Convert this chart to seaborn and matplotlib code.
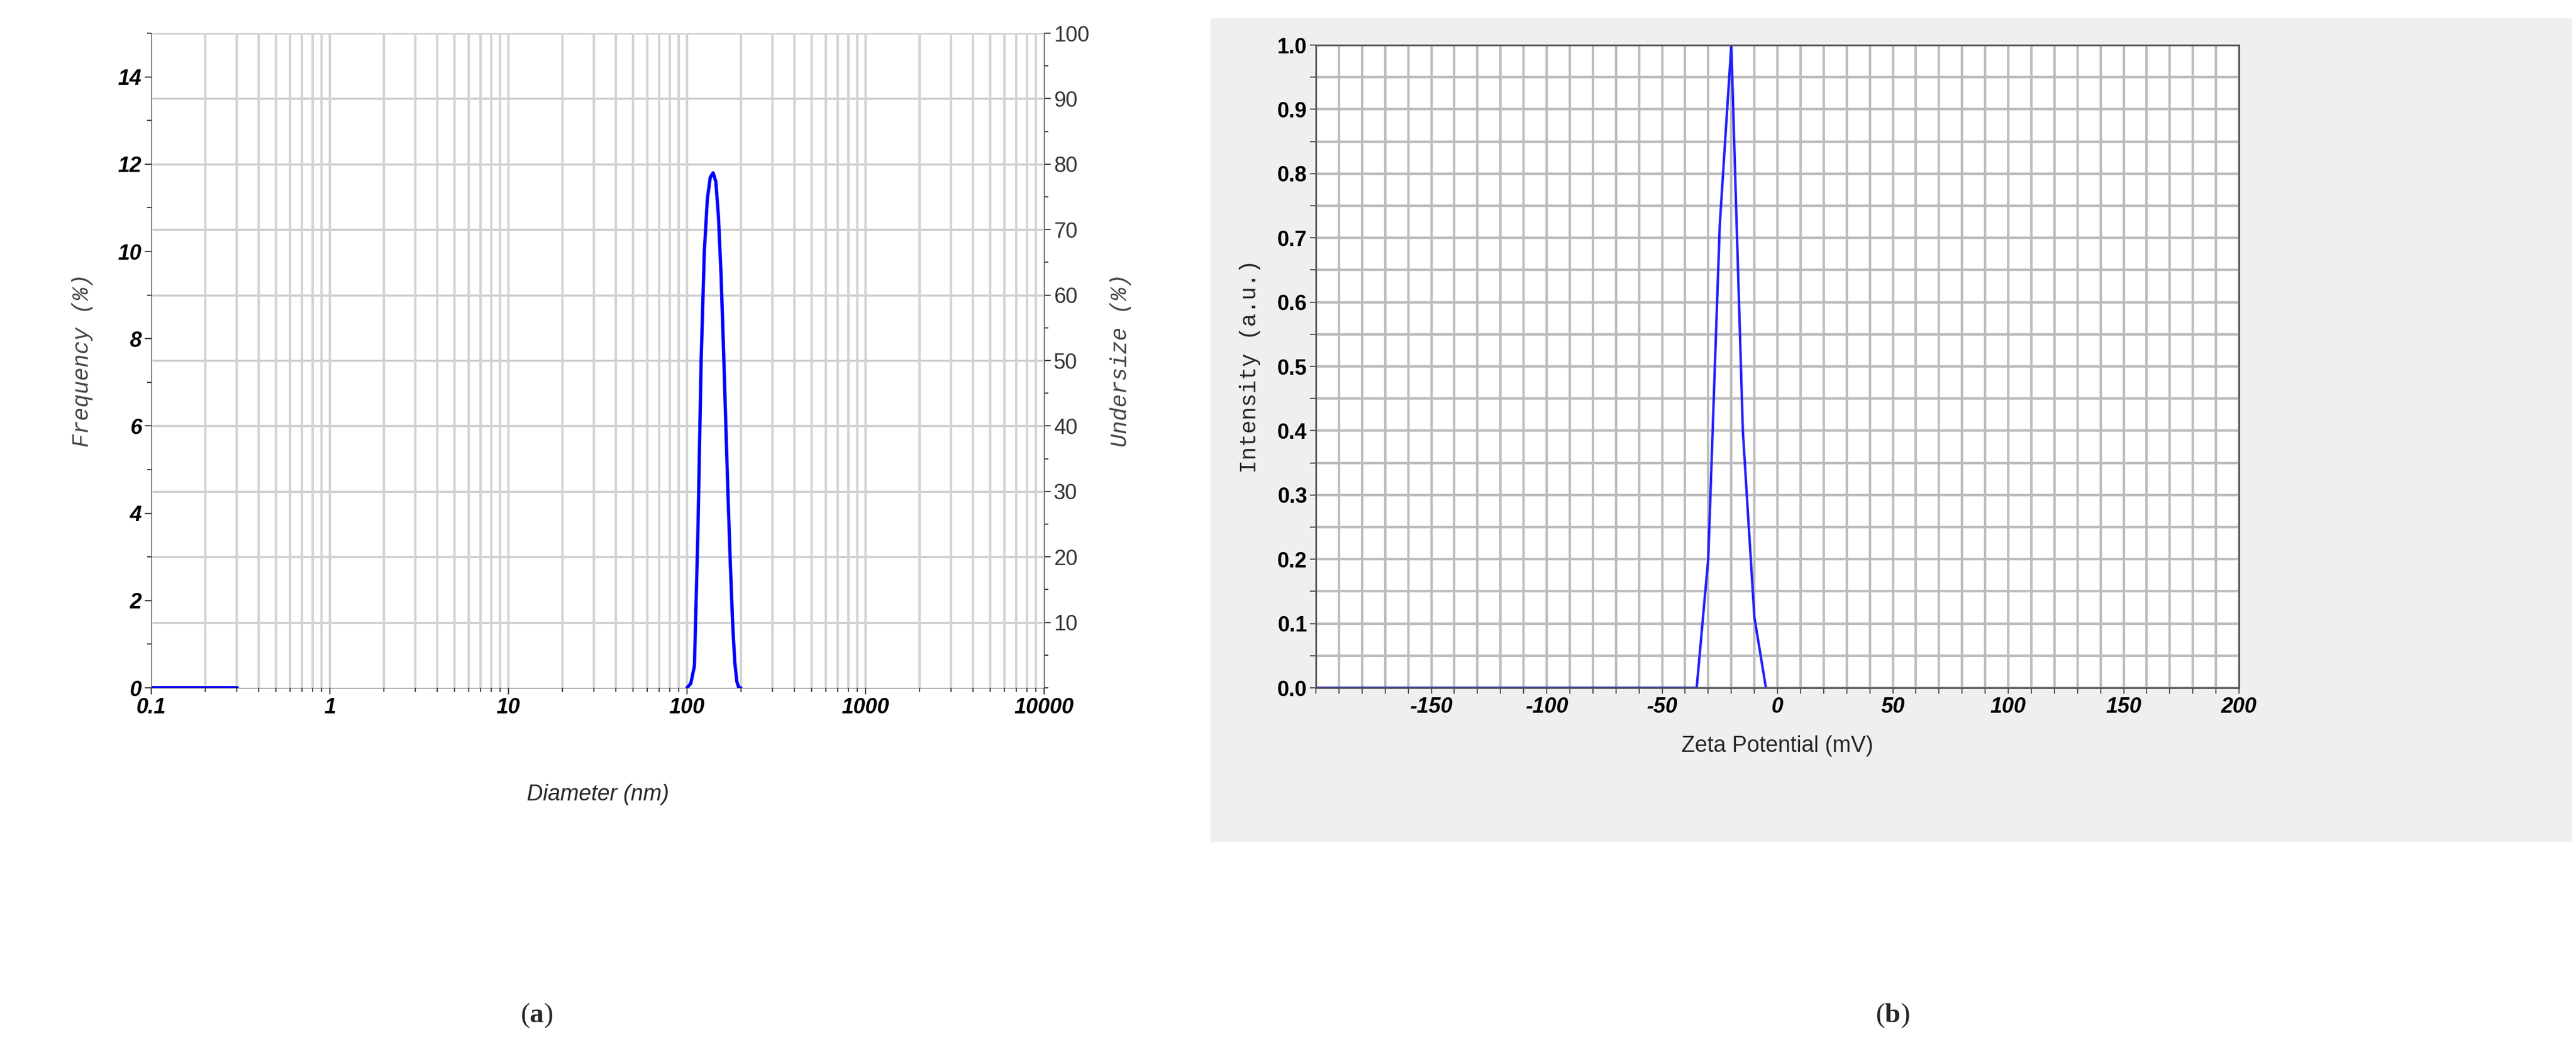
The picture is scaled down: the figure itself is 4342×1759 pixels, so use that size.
import matplotlib.pyplot as plt
import seaborn as sns
import pandas as pd
from matplotlib.ticker import MultipleLocator, FixedLocator

# size distribution (a)
diameter_nm = [100, 105, 110, 115, 120, 125, 130, 135, 140, 145, 150,
               155, 160, 165, 170, 175, 180, 185, 190, 195, 200]
frequency = [0.0, 0.1, 0.5, 3.5, 7.5, 10.0, 11.2, 11.7, 11.8, 11.6,
             10.8, 9.5, 7.8, 6.0, 4.3, 2.8, 1.5, 0.6, 0.15, 0.0, 0.0]
base_nm = [0.1, 0.3]
base_freq = [0.0, 0.0]

# zeta potential (b)
zeta_mv = [-200, -35, -30, -25, -20, -15, -10, -5]
intensity = [0.0, 0.0, 0.2, 0.72, 1.0, 0.4, 0.11, 0.0]

sns.set_style('white')
plt.rcParams['font.family'] = ['Liberation Sans', 'DejaVu Sans']
plt.rcParams['mathtext.fontset'] = 'custom'
plt.rcParams['mathtext.rm'] = 'Liberation Serif'
plt.rcParams['mathtext.bf'] = 'Liberation Serif:bold'

fig = plt.figure(figsize=(43.42, 17.59), dpi=100)

# grey background of panel (b)
bg = fig.add_axes([2040 / 4342, 1 - 1420 / 1759, 2295 / 4342, 1389 / 1759])
bg.set_facecolor('#efefef')
bg.set_xticks([])
bg.set_yticks([])
for s in bg.spines.values():
    s.set_visible(False)

# ---------------- panel (a)
ax = fig.add_axes([255 / 4342, 1 - 1160 / 1759, 1505 / 4342, 1104 / 1759])
df_a = pd.DataFrame({'d': diameter_nm, 'f': frequency})
sns.lineplot(data=df_a, x='d', y='f', ax=ax, color='#0000ff', lw=4)
sns.lineplot(x=base_nm, y=base_freq, ax=ax, color='#0000ff', lw=5)
ax.set_xscale('log')
ax.set_xlim(0.1, 10000)
ax.set_ylim(0, 15)
ax.set_yticks(range(0, 15, 2))
ax.yaxis.set_minor_locator(MultipleLocator(1))
ax.grid(False)
for i in range(1, 11):
    ax.axhline(i * 1.5, color='#cccccc', lw=2.5, zorder=0)
ax.xaxis.grid(True, which='both', color='#d4d4d4', lw=3)
ax.set_axisbelow(True)
for s in ['top', 'right']:
    ax.spines[s].set_visible(False)
ax.spines['left'].set_color('#444444')
ax.spines['bottom'].set_color('#444444')
ax.tick_params(which='both', direction='out', length=8, width=1.5, colors='#444444',
               labelcolor='black', labelsize=26, left=True, bottom=True)
ax.tick_params(which='minor', length=5)
ax.set_xticks([0.1, 1, 10, 100, 1000, 10000])
ax.set_xticklabels(['0.1', '1', '10', '100', '1000', '10000'])
for t in ax.get_xticklabels() + ax.get_yticklabels():
    t.set_fontweight('bold')
    t.set_fontstyle('italic')
ax.set_xlabel('Diameter (nm)', fontsize=27, fontstyle='italic', labelpad=80)
ax.set_ylabel('Frequency (%)', fontsize=27, fontstyle='italic',
              family='Liberation Mono', color='#444444', labelpad=30)

ax2 = ax.twinx()
ax2.set_ylim(0, 100)
ax2.yaxis.set_major_locator(FixedLocator(range(10, 101, 10)))
ax2.yaxis.set_minor_locator(MultipleLocator(5))
ax2.grid(False)
for s in ['top', 'left', 'bottom']:
    ax2.spines[s].set_visible(False)
ax2.spines['right'].set_color('#444444')
ax2.tick_params(which='both', direction='out', length=8, width=1.5, colors='#444444',
                labelcolor='#333333', labelsize=26, right=True)
ax2.tick_params(which='minor', length=5)
ax2.set_ylabel('Undersize (%)', fontsize=27, fontstyle='italic',
               family='Liberation Mono', color='#444444', labelpad=25)

fig.text(905 / 4342, 0.02, r'($\mathbf{a}$)', ha='center', fontsize=34,
         family='Liberation Serif')

# ---------------- panel (b)
bx = fig.add_axes([2218 / 4342, 1 - 1160 / 1759, 1556 / 4342, 1084 / 1759])
df_b = pd.DataFrame({'z': zeta_mv, 'i': intensity})
sns.lineplot(data=df_b, x='z', y='i', ax=bx, color='#2020ff', lw=3)
bx.set_xlim(-200, 200)
bx.set_ylim(0, 1)
bx.xaxis.set_major_locator(FixedLocator(range(-150, 201, 50)))
bx.xaxis.set_minor_locator(MultipleLocator(10))
bx.yaxis.set_major_locator(MultipleLocator(0.1))
bx.yaxis.set_minor_locator(MultipleLocator(0.05))
bx.grid(True, which='both', color='#bdbdbd', lw=3)
bx.set_axisbelow(True)
for s in bx.spines.values():
    s.set_color('#555555')
    s.set_linewidth(2)
bx.tick_params(which='both', direction='out', length=7, width=1.5, colors='#555555',
               labelcolor='black', labelsize=26, left=True, bottom=True)
bx.set_yticks([v / 10 for v in range(0, 11)])
bx.set_yticklabels([f'{v / 10:.1f}' for v in range(0, 11)], fontweight='bold')
bx.set_xticks(range(-150, 201, 50))
bx.set_xticklabels([str(v) for v in range(-150, 201, 50)], fontweight='bold',
                   fontstyle='italic')
bx.set_xlabel('Zeta Potential (mV)', fontsize=27, labelpad=22)
bx.set_ylabel('Intensity (a.u.)', fontsize=27, family='Liberation Mono', labelpad=20)

fig.text(3190 / 4342, 0.02, r'($\mathbf{b}$)', ha='center', fontsize=34,
         family='Liberation Serif')

fig.savefig('out.png', dpi=100)
